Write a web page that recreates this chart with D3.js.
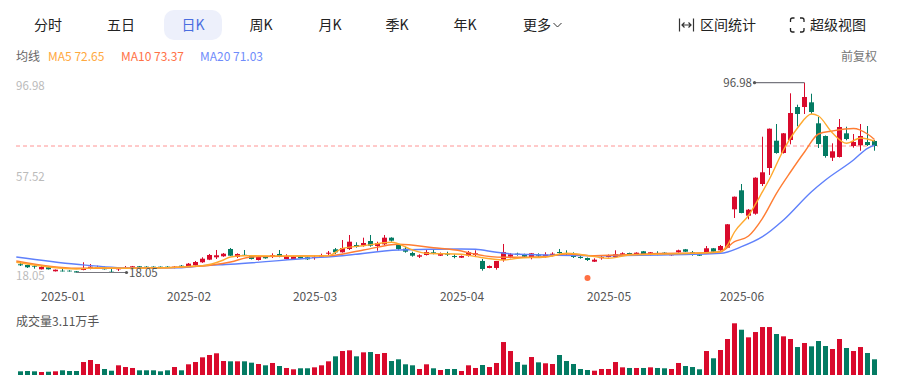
<!DOCTYPE html>
<html>
<head>
<meta charset="utf-8">
<script src="https://cdn.jsdelivr.net/npm/d3@7"></script>
<style>
    html, body { margin: 0; padding: 0; background: #fff; overflow: hidden; }
    text { font-family: "Noto Sans CJK SC", "Noto Sans", sans-serif; }
</style>
</head>
<body>
<svg id="chart" width="898" height="383"></svg>
<script>
// K-line values, one entry per trading day
const opens = [21.47,21.17,20.76,19.38,20.22,18.55,18.80,18.80,18.55,19.09,19.51,19.64,20.22,18.39,19.38,19.80,19.80,20.63,20.47,20.47,20.47,20.47,19.93,20.88,20.63,21.05,22.30,23.38,24.37,24.79,27.83,24.50,25.41,25.04,23.25,24.63,24.63,25.75,23.67,23.67,24.63,24.38,24.08,24.63,25.87,27.70,26.45,27.83,29.49,29.36,31.15,29.07,29.78,32.53,29.61,27.95,26.16,24.63,25.33,26.45,25.04,25.87,24.92,24.21,25.04,25.33,22.84,19.93,19.93,23.25,24.63,25.87,25.46,24.50,25.46,24.79,25.21,26.58,26.16,25.75,24.50,24.08,22.55,24.00,24.50,24.50,25.33,26.16,25.33,26.87,25.33,26.16,26.29,25.21,26.45,27.70,26.45,25.62,25.87,28.12,27.28,28.37,44.33,52.23,41.67,42.50,54.85,61.51,72.86,67.74,73.15,86.87,86.87,88.82,80.09,74.81,65.79,66.08,75.93,70.65,70.94,72.32,72.73];
const closes = [21.05,20.22,20.47,20.34,19.38,19.22,18.55,18.55,18.05,19.93,20.47,20.34,19.38,18.14,19.64,20.05,20.63,19.80,19.80,19.93,19.93,20.05,20.47,20.22,21.71,22.42,23.79,25.33,25.21,25.87,25.04,25.75,25.12,23.67,24.50,23.96,25.33,24.92,24.79,24.63,23.96,23.54,24.38,25.33,26.29,26.45,28.24,30.86,28.66,30.32,29.20,30.32,32.53,31.28,27.83,26.70,25.04,25.21,26.58,26.16,26.16,25.46,24.50,24.92,26.45,26.03,19.51,20.76,22.84,26.58,25.62,25.46,24.63,26.03,25.04,25.46,25.87,26.16,25.87,24.50,24.08,23.25,23.38,24.50,25.33,25.62,26.03,25.62,26.29,25.75,26.45,25.75,25.62,25.87,27.28,26.70,25.75,25.04,28.12,26.70,29.07,38.10,49.57,42.80,44.17,57.47,59.72,77.85,67.74,75.93,84.37,83.96,91.03,84.79,71.49,66.50,68.45,78.55,73.56,72.32,74.81,71.07,70.65];
const highs = [22.84,21.30,21.17,20.76,20.34,19.30,19.93,19.01,18.68,22.30,21.59,20.88,20.55,19.80,20.34,20.76,20.76,20.76,20.68,20.63,20.60,20.68,20.68,21.17,22.00,22.84,24.38,25.75,27.41,26.16,28.24,26.03,27.41,25.33,24.75,24.92,26.03,27.41,25.62,24.92,24.92,24.63,25.04,25.87,27.00,28.24,31.57,33.65,30.61,32.53,33.65,30.86,33.65,32.69,29.91,28.78,26.70,25.62,27.41,27.41,26.37,26.70,25.62,25.12,27.00,27.28,23.67,20.97,22.84,29.91,26.16,26.29,25.87,26.16,26.03,26.45,26.45,27.83,27.28,26.45,25.33,24.29,23.96,25.04,25.54,27.28,26.45,26.29,26.45,27.00,26.58,26.87,26.45,26.00,27.54,27.83,27.00,25.75,29.07,28.24,29.49,38.20,49.65,54.85,44.46,57.64,74.52,77.93,79.80,76.06,92.57,87.83,96.98,92.40,82.71,75.02,71.77,81.88,78.68,75.64,79.80,78.97,73.15];
const lows = [20.76,19.93,19.64,19.30,19.30,18.47,18.47,18.43,18.05,18.97,19.38,19.51,19.26,18.05,18.68,19.51,19.59,19.59,19.59,19.72,19.80,19.93,19.80,20.05,20.47,20.88,22.05,23.20,23.67,24.58,24.92,24.08,24.96,23.46,23.05,23.79,24.08,24.37,23.54,23.54,23.79,23.30,23.38,24.50,25.33,25.75,26.33,27.41,28.37,28.78,28.78,27.12,29.49,30.86,27.29,26.29,24.63,24.08,25.12,25.62,24.92,24.92,23.96,24.08,24.63,24.63,18.80,19.80,19.22,22.55,23.96,25.04,24.37,23.54,24.50,24.21,24.79,25.75,25.33,24.08,23.79,22.84,22.42,23.38,24.29,24.29,25.12,25.46,25.12,25.54,25.12,25.21,25.41,25.04,26.29,26.58,25.04,24.92,25.75,26.58,27.12,28.24,40.72,42.67,40.18,42.09,54.02,58.60,67.45,67.53,71.36,78.84,83.96,83.96,69.82,65.79,64.42,65.87,73.02,69.95,68.70,70.65,68.70];
const volumes = [0.73,0.79,0.73,0.59,0.65,0.73,0.93,0.79,0.79,2.57,2.97,2.18,1.19,0.85,1.92,1.58,1.39,0.93,0.93,0.93,0.73,0.93,1.58,0.93,2.12,2.57,3.50,3.96,4.30,2.77,2.71,2.71,2.71,2.44,2.18,1.92,2.38,1.78,1.39,1.13,1.33,1.33,1.52,1.92,2.71,3.70,4.75,4.89,3.70,4.49,4.55,4.16,4.36,2.77,3.11,2.12,1.92,1.19,2.12,1.33,0.99,1.19,1.19,0.79,1.92,1.39,1.98,1.58,2.38,6.53,4.75,2.57,2.04,3.56,2.51,2.32,2.18,3.96,2.77,2.18,1.19,0.99,0.85,1.19,1.19,2.57,1.52,1.39,1.39,1.39,1.52,1.39,1.33,1.19,2.38,1.78,1.58,1.13,4.75,3.31,4.95,7.13,10.24,8.97,7.46,8.51,9.50,9.50,8.12,7.66,7.13,5.54,6.34,5.68,6.73,5.74,5.15,7.13,5.35,4.75,5.54,4.36,3.11];

// moving averages, read at the bars where the curve could be made out
const ma5Bars = [0.4,9,12,17,27,30,31,33,41,45,47,50,54,57,59,64,66,70,72,76,79,83,85,88,97,101,102,103,105,107,108,110,112,114,115,117,119,121,123];
const ma5Values = [22.30,19.51,20.05,19.80,20.88,23.25,24.50,25.04,24.92,25.04,28.11,29.20,30.61,27.41,26.03,25.62,24.63,23.25,23.96,24.50,26.03,24.63,23.96,25.33,26.03,26.70,29.49,34.89,41.76,51.65,56.93,69.00,78.14,83.96,83.13,76.06,71.78,73.98,72.65];
const ma10Bars = [0.4,9,12,17,27,31,34,41,45,50,55,60,64,66,70,76,79,83,92,98,101,103,105,107,109,111,113,115,117,120,122,123];
const ma10Values = [22.84,19.80,19.80,19.80,20.76,22.42,24.50,24.92,25.04,27.41,29.78,28.37,27.00,25.62,24.38,24.63,25.75,25.04,25.95,26.16,26.70,30.86,33.23,40.59,50.98,59.84,68.16,75.64,76.89,77.93,75.64,73.37];
const ma20Bars = [0.4,9,17,24,27,31,42,47,55,64,66,69,72,83,92,101,104,107,110,114,116,120,122,123];
const ma20Values = [24.50,21.47,19.93,20.05,20.88,21.47,23.96,25.04,27.41,27.83,27.70,26.45,25.62,25.04,25.33,26.03,28.78,32.94,39.88,51.65,56.52,64.83,69.70,71.03];

const monthBars = [7,25,43,64,85,104];
const monthLabels = ["2025-01","2025-02","2025-03","2025-04","2025-05","2025-06"];
const priceTicks = [96.98,57.52,18.05];
const tabs = ["分时","五日","日K","周K","月K","季K","年K"];
const tabCenters = [48,121,193,261,330,397,465];
const maxBar = 113, minBar = 9, eventBar = 82;
const lastPrice = 70.65, maxPrice = 96.98, minPrice = 18.05;

const RED = "#d90a2c", GREEN = "#047b63";
const bars = d3.range(opens.length);

const svg = d3.select("#chart");

const x = d3.scaleLinear().domain([1, 123]).range([20.5, 874.5]);
const y = d3.scaleLinear().domain([minPrice, maxPrice]).range([272.5, 82.7]);
const yVol = d3.scaleLinear().domain([0, 10.3]).range([375, 323]);
const color = i => closes[i] >= opens[i] ? RED : GREEN;

// ---- toolbar ----
svg.append("rect")
    .attr("x", 164).attr("y", 10).attr("width", 58).attr("height", 30)
    .attr("rx", 10).attr("fill", "#edf0fb");

svg.selectAll("text.tab")
    .data(tabs)
    .enter()
    .append("text")
    .classed("tab", true)
    .attr("x", (d, i) => tabCenters[i])
    .attr("y", 30)
    .attr("text-anchor", "middle")
    .attr("font-size", 14)
    .attr("fill", d => d === "日K" ? "#4a6ee0" : "#222")
    .text(d => d);

const topText = (txt, xPos, yPos, size, fill, anchor) => svg.append("text")
    .attr("x", xPos).attr("y", yPos)
    .attr("font-size", size)
    .attr("fill", fill)
    .attr("text-anchor", anchor || "start")
    .text(txt);

topText("更多", 523, 30, 14, "#222");
topText("区间统计", 700, 30, 14, "#222");
topText("超级视图", 810, 30, 14, "#222");

svg.append("path")
    .attr("d", "M553.5 23l4 4 4-4")
    .attr("fill", "none").attr("stroke", "#333").attr("stroke-width", 1);
// range icon
svg.append("path")
    .attr("d", "M679.5 18.500v13M693.5 18.500v13M682 25h9M684.500 22.500l-2.500 2.500 2.500 2.500M688.500 22.500l2.500 2.500-2.500 2.500")
    .attr("fill", "none").attr("stroke", "#333").attr("stroke-width", 1.2);
// fullscreen icon
svg.append("path")
    .attr("d", "M790.5 22v-2a2 2 0 0 1 2-2h2M800 18h2a2 2 0 0 1 2 2v2M804 28v2a2 2 0 0 1-2 2h-2M794.500 32h-2a2 2 0 0 1-2-2v-2")
    .attr("fill", "none").attr("stroke", "#222").attr("stroke-width", 1.3);

// ---- legend row ----
topText("均线", 16, 61, 12, "#666");
topText("MA5 72.65", 48, 61, 12, "#ffa940");
topText("MA10 73.37", 121, 61, 12, "#ff7247");
topText("MA20 71.03", 200, 61, 12, "#6f8cfb");
topText("前复权", 877, 61, 12, "#777", "end");
topText("成交量3.11万手", 16, 326, 12, "#555");

// ---- axes ----
svg.append("g")
    .classed("y-axis", true)
    .attr("transform", "translate(16,0)")
    .call(d3.axisRight(y).tickValues(priceTicks).tickSize(0).tickPadding(0).tickFormat(d3.format(".2f")))
    .call(g => g.select(".domain").remove())
    .selectAll("text")
    .attr("font-size", 11.5)
    .attr("font-family", "\"Noto Sans CJK SC\", sans-serif")
    .attr("fill", "#bbb")
    .attr("transform", d => `translate(0,${d === 57.52 ? -1 : 3})`);

svg.append("g")
    .classed("x-axis", true)
    .attr("transform", "translate(0,289.5)")
    .call(d3.axisBottom(x).tickValues(monthBars).tickSize(0).tickPadding(3)
        .tickFormat((d, i) => monthLabels[i]))
    .call(g => g.select(".domain").remove())
    .selectAll("text")
    .attr("font-size", 12)
    .attr("font-family", "\"Noto Sans CJK SC\", sans-serif")
    .attr("fill", "#555");

// last price line
svg.append("line")
    .attr("x1", 16).attr("x2", 878)
    .attr("y1", y(lastPrice)).attr("y2", y(lastPrice))
    .attr("stroke", "#ff9494")
    .attr("stroke-dasharray", "4,3");

// ---- volume bars ----
svg.append("g").selectAll("rect")
    .data(bars)
    .enter()
    .append("rect")
    .attr("x", i => x(i + 1) - 2.5)
    .attr("width", 5)
    .attr("y", i => yVol(volumes[i]))
    .attr("height", i => yVol(0) - yVol(volumes[i]))
    .attr("fill", color);

// ---- candles ----
const candles = svg.append("g").selectAll("g")
    .data(bars)
    .enter()
    .append("g");

candles.append("line")
    .attr("x1", i => x(i + 1)).attr("x2", i => x(i + 1))
    .attr("y1", i => y(highs[i])).attr("y2", i => y(lows[i]))
    .attr("stroke", color)
    .attr("stroke-width", 1);

candles.append("rect")
    .attr("x", i => x(i + 1) - 2.5)
    .attr("width", 5)
    .attr("y", i => y(Math.max(opens[i], closes[i])))
    .attr("height", i => Math.max(0.7, Math.abs(y(opens[i]) - y(closes[i]))))
    .attr("fill", color);

// ---- moving averages ----
const maLine = d3.line()
    .x(d => x(d[0]))
    .y(d => y(d[1]))
    .curve(d3.curveMonotoneX);

[[ma20Bars, ma20Values, "#5f80fb"],
 [ma10Bars, ma10Values, "#ff7d33"],
 [ma5Bars, ma5Values, "#ffa92e"]].forEach(([b, v, c]) => {
    svg.append("path")
        .datum(d3.zip(b, v))
        .attr("fill", "none")
        .attr("stroke", c)
        .attr("stroke-width", 1.4)
        .attr("d", maLine);
});

// ---- max / min markers ----
const marker = (bar, price, dir, label) => {
    const x0 = x(bar), x1 = x0 + dir * 50, yy = y(price);
    svg.append("line")
        .attr("x1", x0).attr("x2", x1).attr("y1", yy).attr("y2", yy)
        .attr("stroke", "#77777f").attr("stroke-width", 1.2);
    svg.append("circle")
        .attr("cx", x1).attr("cy", yy).attr("r", 1.6).attr("fill", "#555");
    svg.append("text")
        .attr("x", x1 + dir * 2.5).attr("y", yy + 4)
        .attr("text-anchor", dir < 0 ? "end" : "start")
        .attr("font-size", 11.5)
        .attr("fill", "#555")
        .text(label);
};
marker(maxBar, maxPrice, -1, "96.98");
marker(minBar, minPrice, 1, "18.05");

// event dot under the candles
svg.append("circle")
    .attr("cx", x(eventBar)).attr("cy", 278).attr("r", 3).attr("fill", "#ff7043");
</script>
</body>
</html>
